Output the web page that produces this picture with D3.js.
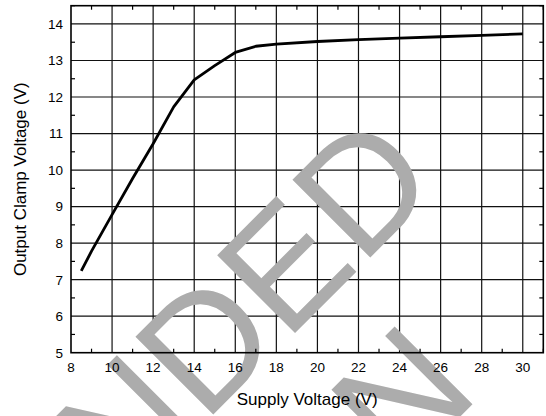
<!DOCTYPE html>
<html>
<head>
<meta charset="utf-8">
<script src="https://cdn.jsdelivr.net/npm/d3@7"></script>
<style>
  html, body { margin: 0; padding: 0; background: #fff; }
  svg { display: block; }
  text { font-family: "Liberation Sans", Arial, sans-serif; }
</style>
</head>
<body>
<svg id="chart" width="546" height="416"></svg>
<script>
// ---- data ----
const supplyVoltage = [8.5, 9, 10, 11, 12, 13, 14, 15, 16, 17, 18, 20, 22, 24, 26, 28, 30];
const clampVoltage  = [7.24, 7.78, 8.78, 9.77, 10.72, 11.73, 12.47, 12.86, 13.22, 13.39, 13.45, 13.52, 13.57, 13.61, 13.65, 13.69, 13.73];
const xTicks = [8, 10, 12, 14, 16, 18, 20, 22, 24, 26, 28, 30];
const yTicks = [5, 6, 7, 8, 9, 10, 11, 12, 13, 14];
const xMinorTicks = [9, 11, 13, 15, 17, 19, 21, 23, 25, 27, 29, 31];
const yMinorTicks = [5.5, 6.5, 7.5, 8.5, 9.5, 10.5, 11.5, 12.5, 13.5, 14.5];
const xTitle = "Supply Voltage (V)";
const yTitle = "Output Clamp Voltage (V)";
const watermarkLines = ["NOT RECOMMENDED", "FOR NEW DESIGN"];

// ---- layout ----
const L = 71, R = 543.3, T = 5.7, B = 352.7;
const svg = d3.select("#chart");
const x = d3.scaleLinear().domain([8, 31]).range([L, R]);
const y = d3.scaleLinear().domain([5, 14.5]).range([B, T]);

svg.append("rect").attr("width", 546).attr("height", 416).attr("fill", "#fff");

// gridlines
const grid = svg.append("g").attr("stroke", "#111").attr("stroke-width", 1.2);
grid.selectAll("line.v").data(xTicks.filter(d => d > 8)).join("line")
  .attr("x1", d => x(d)).attr("x2", d => x(d)).attr("y1", T).attr("y2", B);
grid.selectAll("line.h").data(yTicks.filter(d => d > 5)).join("line")
  .attr("y1", d => y(d)).attr("y2", d => y(d)).attr("x1", L).attr("x2", R);

// watermark
const wm = svg.append("g")
  .attr("transform", "translate(442.8,185) rotate(-45)")
  .attr("fill", "#acacac")
  .attr("font-size", 160)
  .attr("text-anchor", "end");
wm.append("text").attr("x", 0).attr("y", 0).text(watermarkLines[0]);
wm.append("text").attr("x", -121).attr("y", 176).text(watermarkLines[1]);

// minor ticks (inside)
const tk = svg.append("g").attr("stroke", "#000").attr("stroke-width", 1.2);
tk.selectAll("line.bx").data(xMinorTicks).join("line")
  .attr("x1", d => x(d)).attr("x2", d => x(d)).attr("y1", B).attr("y2", B - 4);
tk.selectAll("line.tx").data(xMinorTicks).join("line")
  .attr("x1", d => x(d)).attr("x2", d => x(d)).attr("y1", T).attr("y2", T + 4);
tk.selectAll("line.ly").data(yMinorTicks).join("line")
  .attr("y1", d => y(d)).attr("y2", d => y(d)).attr("x1", L).attr("x2", L + 4);
tk.selectAll("line.ry").data(yMinorTicks).join("line")
  .attr("y1", d => y(d)).attr("y2", d => y(d)).attr("x1", R).attr("x2", R - 4);

// border
svg.append("rect").attr("x", L).attr("y", T).attr("width", R - L).attr("height", B - T)
  .attr("fill", "none").attr("stroke", "#000").attr("stroke-width", 1.6);

// curve
const pts = supplyVoltage.map((v, i) => [v, clampVoltage[i]]);
svg.append("path").datum(pts)
  .attr("fill", "none").attr("stroke", "#000").attr("stroke-width", 2.8)
  .attr("stroke-linejoin", "round")
  .attr("d", d3.line().x(d => x(d[0])).y(d => y(d[1])));

// tick labels
svg.append("g").selectAll("text").data(xTicks).join("text")
  .attr("x", d => x(d)).attr("y", 372).attr("text-anchor", "middle")
  .attr("font-size", 13.5).attr("fill", "#000").text(d => d);
svg.append("g").selectAll("text").data(yTicks).join("text")
  .attr("x", 63).attr("y", d => y(d)).attr("dy", "0.36em").attr("text-anchor", "end")
  .attr("font-size", 13.5).attr("fill", "#000").text(d => d);

// axis titles
svg.append("text").attr("x", (L + R) / 2).attr("y", 405).attr("text-anchor", "middle")
  .attr("font-size", 17).attr("fill", "#000").text(xTitle);
svg.append("text").attr("transform", `translate(26,${(T + B) / 2}) rotate(-90)`)
  .attr("text-anchor", "middle").attr("font-size", 17).attr("fill", "#000").text(yTitle);
</script>
</body>
</html>
